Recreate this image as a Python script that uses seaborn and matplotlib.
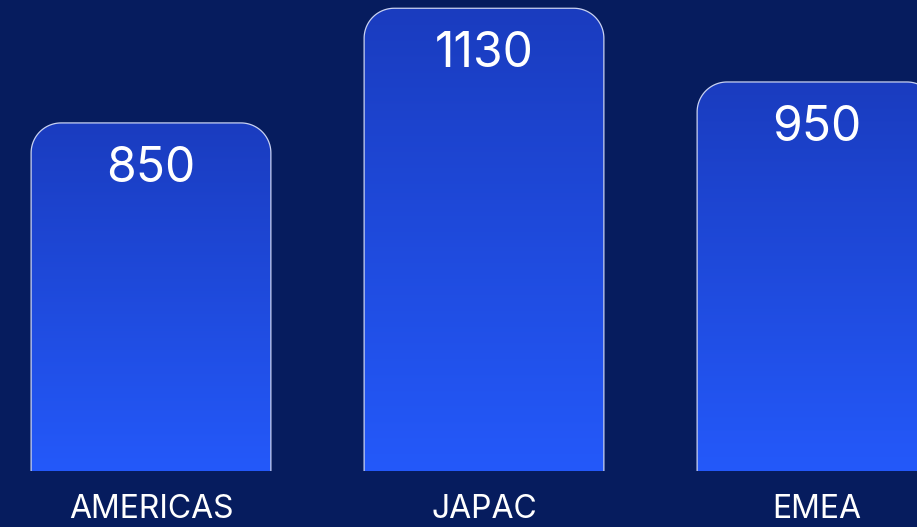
import numpy as np
import pandas as pd
import matplotlib
matplotlib.use("Agg")
import matplotlib.pyplot as plt
import seaborn as sns
from matplotlib.path import Path
from matplotlib.patches import PathPatch
from matplotlib.colors import LinearSegmentedColormap

categories = ["AMERICAS", "JAPAC", "EMEA"]
values = [850, 1130, 950]

BG = "#061c5e"
TOP_C = "#1a3cbf"
BOT_C = "#2459fa"
EDGE = "#c9d2f2"

sns.set_theme(style="white")
plt.rcParams["font.family"] = ["Inter", "DejaVu Sans"]

fig = plt.figure(figsize=(9.17, 5.27), dpi=100, facecolor=BG)
ax = fig.add_axes([0, 56 / 527, 1, 471 / 527])
ax.set_facecolor(BG)

df = pd.DataFrame({"region": categories, "value": values})
sns.barplot(data=df, x="region", y="value", ax=ax, width=0.72, color=BOT_C)

ax.set_xlim(-151 / 333, (917 - 151) / 333)
ax.set_ylim(0, 471 / 0.4095)

cmap = LinearSegmentedColormap.from_list("g", [BOT_C, TOP_C])
grad = np.linspace(0, 1, 256).reshape(-1, 1)

# corner radius in pixels -> data units
rx = 30 / 333
ry = 30 / 0.4095
for p in list(ax.patches):
    x0 = p.get_x()
    w = p.get_width()
    h = p.get_height()
    x1 = x0 + w
    p.set_visible(False)
    t = np.linspace(0, np.pi / 2, 30)
    lx = x0 + rx - rx * np.cos(t)
    ly = h - ry + ry * np.sin(t)
    rxs = x1 - rx + rx * np.sin(t)
    rys = h - ry + ry * np.cos(t)
    xs = np.concatenate([[x0], lx, rxs, [x1]])
    ys = np.concatenate([[0], ly, rys, [0]])
    verts = np.column_stack([xs, ys])
    closed = np.vstack([verts, verts[:1]])
    codes = [Path.MOVETO] + [Path.LINETO] * (len(closed) - 2) + [Path.CLOSEPOLY]
    clip = PathPatch(Path(closed, codes), facecolor="none", edgecolor="none", transform=ax.transData)
    ax.add_patch(clip)
    im = ax.imshow(grad, cmap=cmap, origin="lower", aspect="auto",
                   extent=[x0, x1, 0, h], zorder=2, interpolation="bicubic")
    im.set_clip_path(clip)
    ax.plot(xs, ys, color=EDGE, lw=0.9, zorder=3, solid_capstyle="butt")
    ax.annotate(f"{h:.0f}", xy=(x0 + w / 2, h), xytext=(0, -46 * 0.72),
                textcoords="offset points", ha="center", va="center",
                color="white", fontsize=34.5, zorder=4)

ax.set_xlim(-151 / 333, (917 - 151) / 333)
ax.set_ylim(0, 471 / 0.4095)
ax.set_xlabel("")
ax.set_ylabel("")
ax.set_yticks([])
ax.tick_params(axis="x", length=0, pad=16.5, labelsize=23, labelcolor="white")
for s in ax.spines.values():
    s.set_visible(False)

fig.savefig("out.png", dpi=100, facecolor=BG)
